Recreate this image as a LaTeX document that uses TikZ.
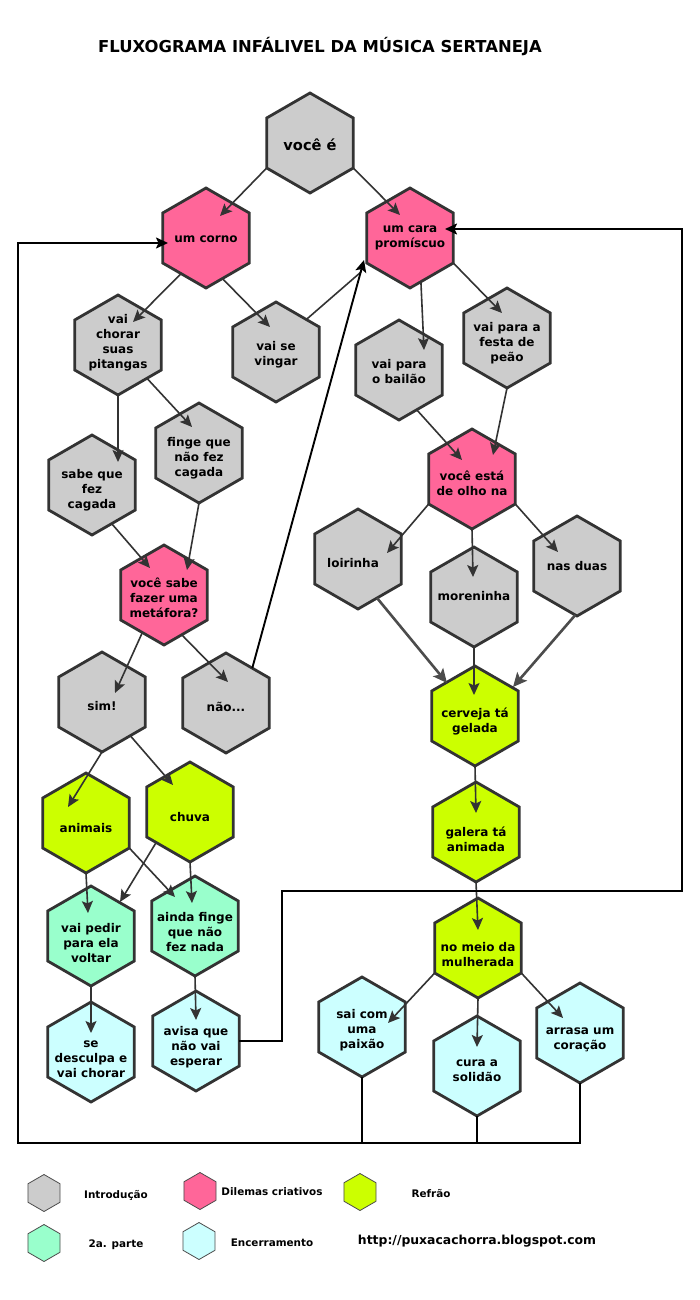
\documentclass[tikz,border=0pt]{standalone}
\usepackage{fontspec}
\setmainfont{DejaVu Sans}
\usetikzlibrary{shapes.geometric,arrows.meta,calc}
\definecolor{cgray}{HTML}{CCCCCC}
\definecolor{cpink}{HTML}{FF6699}
\definecolor{clime}{HTML}{CCFF00}
\definecolor{cmint}{HTML}{99FFCC}
\definecolor{ccyan}{HTML}{CCFFFF}
\definecolor{hexline}{HTML}{333333}
\definecolor{arrline}{HTML}{333333}
\newcommand\HX[6]{\node[hex,fill=#2,label={[lbl,#6]center:{#5}}] (#1) at (#3,#4) {};}
\begin{document}
\begin{tikzpicture}[x=1pt,y=-1pt,
  hex/.style={shape=regular polygon, regular polygon sides=6, shape border rotate=30,
    minimum size=100pt, inner sep=0pt, outer sep=0pt, draw=hexline, line width=2.8pt},
  lbl/.style={align=center, inner sep=0pt, text=black,
    font=\bfseries\fontsize{12}{15}\selectfont},
  lhex/.style={shape=regular polygon, regular polygon sides=6, shape border rotate=30,
    minimum size=37pt, inner sep=0pt, outer sep=0pt, draw=black!70, line width=0.8pt},
  ltxt/.style={inner sep=0pt, font=\bfseries\fontsize{10.4}{12}\selectfont},
  urltxt/.style={inner sep=0pt, font=\bfseries\fontsize{12.4}{15}\selectfont},
  titletxt/.style={inner sep=0pt, font=\bfseries\fontsize{16.4}{20}\selectfont},
  arr/.style={draw=arrline, line width=1.6pt, -{Stealth[length=12pt,width=11pt,inset=2.5pt]}},
  conn/.style={draw=arrline, line width=1.6pt},
  bigarr/.style={draw=black!70, line width=2.6pt, -{Stealth[length=14pt,width=13pt,inset=3pt]}},
  blackarr/.style={draw=black, line width=1.9pt, -{Stealth[length=12pt,width=11pt,inset=2.5pt]}},
  loopl/.style={draw=black, line width=1.9pt},
  looparr/.style={draw=black, line width=1.9pt, -{Stealth[length=12pt,width=11pt,inset=2.5pt]}}]
\useasboundingbox[fill=white] (0,0) rectangle (700,1300);

\node[titletxt] (title) at (320,47) {FLUXOGRAMA INFÁLIVEL DA MÚSICA SERTANEJA};

\HX{voce}{cgray}{310}{143}{\fontsize{14.6}{18}\selectfont você é}{yshift=-2pt}
\HX{corno}{cpink}{206}{238}{um corno}{yshift=-1pt}
\HX{cara}{cpink}{410}{238}{um cara\\promíscuo}{yshift=0pt}
\HX{chorar}{cgray}{118}{345}{vai\\chorar\\suas\\pitangas}{yshift=2pt}
\HX{vingar}{cgray}{276}{352}{vai se\\vingar}{yshift=-3pt}
\HX{bailao}{cgray}{399}{370}{vai para\\o bailão}{yshift=-2pt}
\HX{festa}{cgray}{507}{338}{vai para a\\festa de\\peão}{yshift=-5pt}
\HX{sabe}{cgray}{92}{485}{sabe que\\fez\\cagada}{yshift=-5pt}
\HX{finge}{cgray}{199}{453}{finge que\\não fez\\cagada}{yshift=-5pt}
\HX{metafora}{cpink}{164}{595}{você sabe\\fazer uma\\metáfora?}{yshift=-3pt}
\HX{sim}{cgray}{102}{702}{sim!}{yshift=-4pt}
\HX{nao}{cgray}{226}{703}{não...}{yshift=-4pt}
\HX{olho}{cpink}{472}{479}{você está\\de olho na}{yshift=-4pt}
\HX{loira}{cgray}{358}{559}{loirinha}{xshift=-5pt,yshift=-4pt}
\HX{morena}{cgray}{474}{597}{moreninha}{yshift=1pt}
\HX{duas}{cgray}{577}{566}{nas duas}{yshift=0pt}
\HX{cerveja}{clime}{475}{716}{cerveja tá\\gelada}{yshift=-5pt}
\HX{galera}{clime}{476}{832}{galera tá\\animada}{yshift=-7pt}
\HX{meio}{clime}{478}{948}{no meio da\\mulherada}{yshift=-7pt}
\HX{paixao}{ccyan}{362}{1027}{sai com\\uma\\paixão}{yshift=-3pt}
\HX{solidao}{ccyan}{477}{1066}{cura a\\solidão}{yshift=-5pt}
\HX{coracao}{ccyan}{580}{1033}{arrasa um\\coração}{yshift=-7pt}
\HX{animais}{clime}{86}{823}{animais}{yshift=-5pt}
\HX{chuva}{clime}{190}{812}{chuva}{yshift=-5pt}
\HX{pedir}{cmint}{91}{936}{vai pedir\\para ela\\voltar}{yshift=-7pt}
\HX{aindafinge}{cmint}{195}{926}{ainda finge\\que não\\fez nada}{yshift=-6pt}
\HX{desculpa}{ccyan}{91}{1052}{se\\desculpa e\\vai chorar}{yshift=-7pt}
\HX{avisa}{ccyan}{196}{1041}{avisa que\\não vai\\esperar}{yshift=-6pt}

% connectors
\draw[arr] (voce.210) -- ($(corno)+(14,-22)$);
\draw[arr] (voce.330) -- ($(cara)+(-10,-23)$);
\draw[arr] (corno.235) -- ($(chorar)+(15,-23)$);
\draw[arr] (corno.292) -- ($(vingar)+(-6,-25)$);
\draw[conn] (vingar.47) -- ($(cara)+(-49,34)$);
\draw[blackarr] (nao.53) -- ($(cara)+(-46,22)$);
\draw[arr] (cara.284) -- ($(bailao)+(25,-20)$);
\draw[arr] (cara.330) -- ($(festa)+(-5,-25)$);
\draw[arr] (chorar.270) -- ($(sabe)+(26,-23)$);
\draw[arr] (chorar.311) -- ($(finge)+(-7,-26)$);
\draw[arr] (sabe.297) -- ($(metafora)+(-14,-27)$);
\draw[arr] (finge.270) -- ($(metafora)+(23,-25)$);
\draw[arr] (metafora.240) -- ($(sim)+(13,-9)$);
\draw[arr] (metafora.294) -- ($(nao)+(2,-21)$);
\draw[arr] (bailao.294) -- ($(olho)+(-10,-19)$);
\draw[arr] (festa.270) -- ($(olho)+(21,-24)$);
\draw[arr] (olho.210) -- ($(loira)+(29,-6)$);
\draw[arr] (olho.270) -- ($(morena)+(-1,-20)$);
\draw[arr] (olho.330) -- ($(duas)+(-19,-14)$);
\draw[bigarr] (loira.296) -- ($(cerveja)+(-28,-33)$);
\draw[arr] (morena.270) -- ($(cerveja)+(-1,-21)$);
\draw[bigarr] (duas.268) -- ($(cerveja)+(38,-29)$);
\draw[arr] (cerveja.270) -- ($(galera)+(0,-19)$);
\draw[arr] (galera.270) -- ($(meio)+(0,-18)$);
\draw[arr] (meio.210) -- ($(paixao)+(26,-4)$);
\draw[arr] (meio.270) -- ($(solidao)+(0,-19)$);
\draw[arr] (meio.330) -- ($(coracao)+(-17,-15)$);
\draw[arr] (sim.270) -- ($(animais)+(-18,-16)$);
\draw[arr] (sim.310) -- ($(chuva)+(-17,-27)$);
\draw[arr] (animais.270) -- ($(pedir)+(-3,-23)$);
\draw[arr] (animais.330) -- ($(aindafinge)+(-20,-29)$);
\draw[arr] (chuva.222) -- ($(pedir)+(29,-34)$);
\draw[arr] (chuva.270) -- ($(aindafinge)+(-3,-23)$);
\draw[arr] (pedir.270) -- ($(desculpa)+(0,-19)$);
\draw[arr] (aindafinge.270) -- ($(avisa)+(0,-21)$);

% loop lines
\coordinate (r1) at (282,891);
\coordinate (r2) at (682,891);
\coordinate (r3) at (682,229);
\draw[looparr] (avisa.0) -| (r1) -- (r2) -- (r3) -- ($(cara)+(35,-9)$);
\coordinate (b1) at (18,1143);
\coordinate (b2) at (18,243);
\draw[loopl] (paixao.270) -- (paixao.270 |- b1);
\draw[loopl] (solidao.270) -- (solidao.270 |- b1);
\draw[looparr] (coracao.270) -- (coracao.270 |- b1) -- (b1) -- (b2) -- ($(corno)+(-38,5)$);

% legend
\node[lhex,fill=cgray] (lg1) at (44,1193) {};
\node[ltxt] (lt1) at (116,1195) {Introdução};
\node[lhex,fill=cpink] (lg2) at (200,1191) {};
\node[ltxt] (lt2) at (272,1192) {Dilemas criativos};
\node[lhex,fill=clime] (lg3) at (360,1192) {};
\node[ltxt] (lt3) at (431,1194) {Refrão};
\node[lhex,fill=cmint] (lg4) at (44,1243) {};
\node[ltxt] (lt4) at (116,1245) {2a. parte};
\node[lhex,fill=ccyan] (lg5) at (199,1241) {};
\node[ltxt] (lt5) at (272,1243) {Encerramento};
\node[urltxt] (url) at (477,1241) {http://puxacachorra.blogspot.com};
\end{tikzpicture}
\end{document}
